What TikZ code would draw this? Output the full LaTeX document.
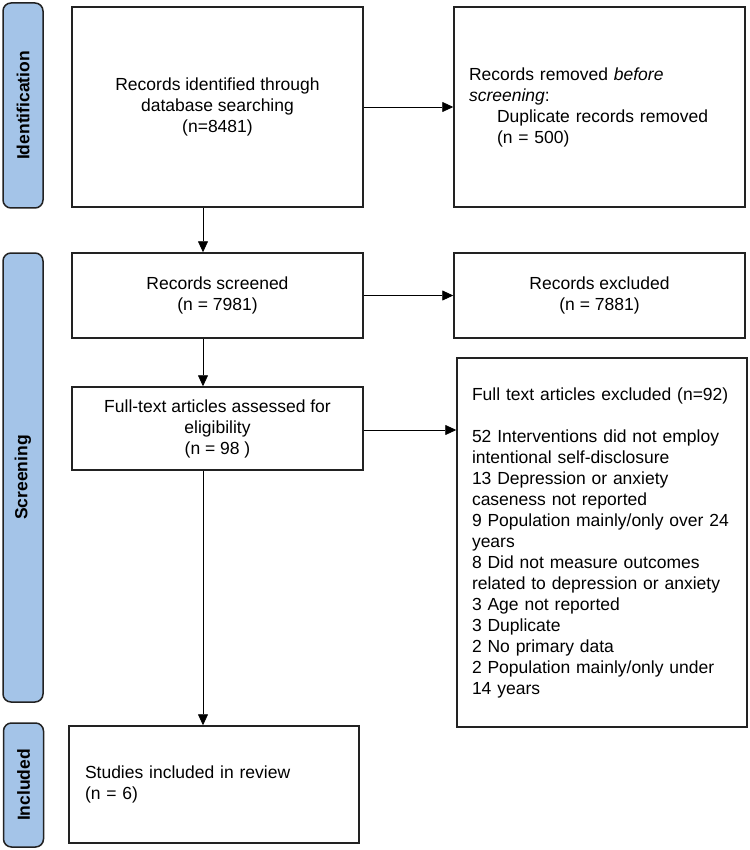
\documentclass[tikz,border=0pt]{standalone}
\usepackage{fontspec}
\setmainfont{Liberation Sans}
\usetikzlibrary{arrows.meta}
\definecolor{phaseblue}{RGB}{164, 196, 232}
\definecolor{edgegray}{RGB}{34, 34, 34}

\begin{document}
\begin{tikzpicture}[x=1pt, y=-1pt,
    every node/.style={font=\fontsize{17.5}{21}\selectfont},
    box/.style={draw=edgegray, line width=1.5pt, inner sep=0pt, align=center},
    listbox/.style={box, align=left, inner xsep=15pt},
    phase/.style={draw=edgegray, fill=phaseblue, line width=1.5pt, rounded corners=8pt,
                  font=\fontsize{17.5}{21}\selectfont\bfseries, rotate=90, inner sep=0pt,
                  minimum height=40},
    flow/.style={-{Triangle[width=10pt,length=11pt]}, line width=0.8pt}]
        \useasboundingbox (0,0) rectangle (749,850);
        % phase bars
        \node[phase, minimum width=205] (idbar)     at (23.0,105.5) {Identification};
        \node[phase, minimum width=449] (screenbar) at (23.0,477.5) {Screening};
        \node[phase, minimum width=124] (inclbar)   at (23.5,785.0) {Included};
        % boxes
        \node[box, minimum width=291, minimum height=200] (ident)    at (217.5,107.0)
             {Records identified through\\database searching\\(n=8481)};
        \node[listbox, text width=261, minimum height=200] (removed) at (599.5,107.0)
             {Records removed \textit{before}\\\textit{screening}:\\
              \hspace*{28pt}Duplicate records removed\\\hspace*{28pt}(n = 500)};
        \node[box, minimum width=291, minimum height=85]  (screened) at (217.5,295.5)
             {Records screened\\(n = 7981)};
        \node[box, minimum width=291, minimum height=85]  (excluded) at (599.5,295.5)
             {Records excluded\\(n = 7881)};
        \node[box, minimum width=291, minimum height=83]  (fulltext) at (217.5,428.5)
             {Full-text articles assessed for\\eligibility\\(n = 98 )};
        \node[listbox, text width=260, minimum height=369] (ftexcl)  at (602.0,542.5)
             {Full text articles excluded (n=92)\\[21pt]
              52 Interventions did not employ\\intentional self-disclosure\\
              13 Depression or anxiety\\caseness not reported\\
              9 Population mainly/only over 24\\years\\
              8 Did not measure outcomes\\related to depression or anxiety\\
              3 Age not reported\\3 Duplicate\\2 No primary data\\
              2 Population mainly/only under\\14 years};
        \node[listbox, inner xsep=16pt, text width=258, minimum height=117] (included) at (214.0,784.5)
             {Studies included in review\\(n = 6)};
        % arrows
        \draw[flow] (ident.east) -- (removed.west);
        \draw[flow] (screened.east) -- (excluded.west);
        \draw[flow] ([yshift=-1.5pt]fulltext.east) -- ([yshift=-1.5pt]fulltext.east -| ftexcl.west);
        \draw[flow] ([xshift=-14.5pt]ident.south) -- ([xshift=-14.5pt]screened.north);
        \draw[flow] ([xshift=-14.5pt]screened.south) -- ([xshift=-14.5pt]fulltext.north);
        \draw[flow] ([xshift=-14.5pt]fulltext.south) -- ([xshift=-14.5pt]fulltext.south |- included.north);
\end{tikzpicture}
\end{document}
